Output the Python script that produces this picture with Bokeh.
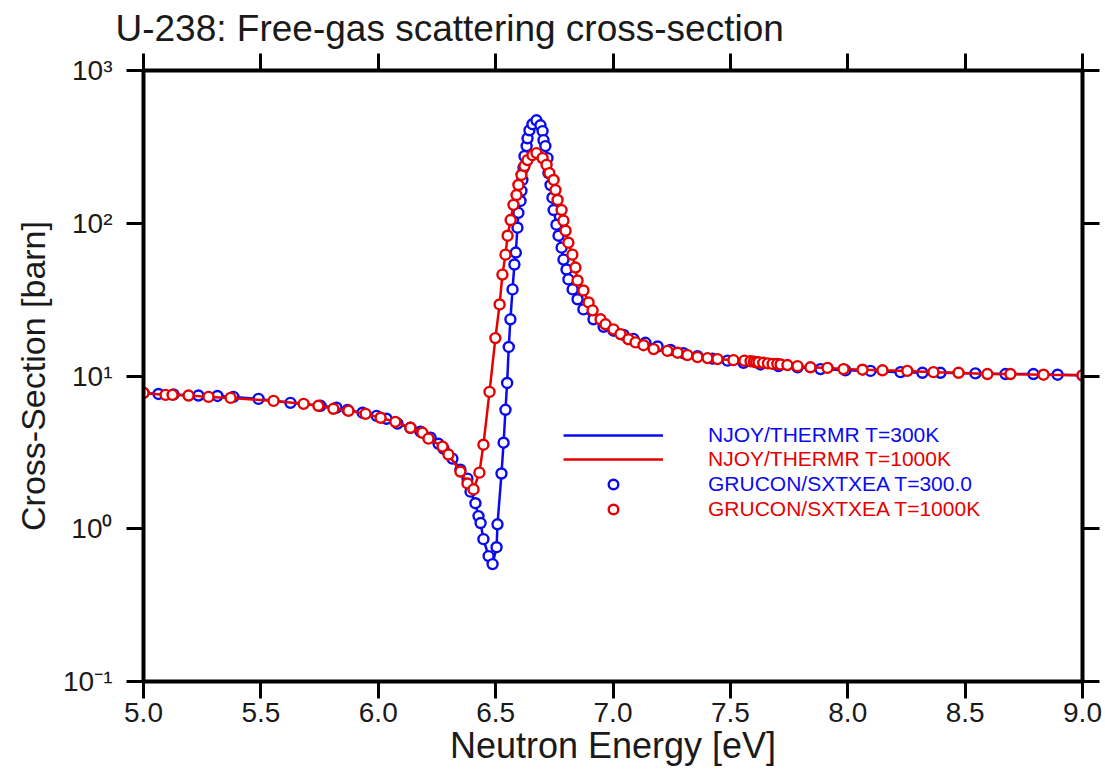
from bokeh.plotting import figure
from bokeh.models import (FixedTicker, LinearAxis, LogAxis, Range1d, Legend,
                          LegendItem, PrintfTickFormatter)
from bokeh.embed import file_html
from bokeh.resources import INLINE

FONT = "Liberation Sans"
BLUE = "#0a0af0"
RED = "#e60000"

# ---------------- data ----------------
x_ticks = [5.0, 5.5, 6.0, 6.5, 7.0, 7.5, 8.0, 8.5, 9.0]
y_ticks = [0.1, 1, 10, 100, 1000]
y_tick_labels = {0.1: "10\u207b\u00b9", 1: "10\u2070", 10: "10\u00b9",
                 100: "10\u00b2", 1000: "10\u00b3"}

# T = 300 K
blue_E = [5.000, 5.064, 5.128, 5.234, 5.315, 5.383, 5.490, 5.626, 5.754, 5.822,
          5.869, 5.933, 5.993, 6.035, 6.082, 6.137, 6.180, 6.223, 6.257, 6.278,
          6.316, 6.350, 6.380, 6.393, 6.414, 6.427, 6.436, 6.448, 6.470, 6.487,
          6.504, 6.508, 6.525, 6.534, 6.542, 6.549, 6.556, 6.563, 6.572, 6.580,
          6.586, 6.593, 6.597, 6.606, 6.610, 6.614, 6.619, 6.623, 6.632, 6.636,
          6.644, 6.657, 6.674, 6.691, 6.700, 6.704, 6.712, 6.721, 6.725, 6.734,
          6.742, 6.747, 6.759, 6.768, 6.781, 6.789, 6.802, 6.810, 6.828, 6.849,
          6.874, 6.917, 6.960, 7.002, 7.045, 7.087, 7.138, 7.190, 7.245, 7.300,
          7.360, 7.424, 7.488, 7.556, 7.628, 7.705, 7.786, 7.884, 7.990, 8.097,
          8.225, 8.318, 8.395, 8.544, 8.672, 8.791, 8.894, 9.000]
blue_xs = [7.75, 7.63, 7.58, 7.45, 7.40, 7.30, 7.08, 6.67, 6.38, 6.20,
           6.00, 5.75, 5.48, 5.25, 4.88, 4.58, 4.32, 3.95, 3.60, 3.35,
           2.88, 2.44, 2.13, 1.75, 1.47, 1.21, 1.09, 0.855, 0.662, 0.587,
           0.757, 1.07, 2.30, 3.66, 6.01, 9.00, 15.5, 23.5, 36.9, 53.7,
           64.3, 93.5, 117, 140, 163, 192, 230, 275, 320, 360,
           406, 445, 472, 438, 401, 350, 320, 267, 213, 178,
           147, 122, 97.8, 82.9, 69.2, 57.8, 49.8, 42.9, 36.9, 31.8,
           27.3, 23.5, 21.0, 19.8, 18.6, 17.5, 16.5, 15.6, 14.8, 14.1,
           13.5, 13.0, 12.6, 12.2, 11.9, 11.6, 11.4, 11.1, 10.9, 10.8,
           10.6, 10.5, 10.5, 10.4, 10.3, 10.3, 10.2, 10.1]

# T = 1000 K
red_E = [5.000, 5.094, 5.124, 5.192, 5.277, 5.371, 5.554, 5.682, 5.745, 5.809,
         5.873, 5.946, 6.010, 6.073, 6.137, 6.188, 6.214, 6.274, 6.299, 6.350,
         6.380, 6.406, 6.431, 6.448, 6.474, 6.499, 6.517, 6.529, 6.542, 6.551,
         6.564, 6.576, 6.589, 6.597, 6.610, 6.623, 6.636, 6.657, 6.674, 6.700,
         6.717, 6.729, 6.747, 6.755, 6.764, 6.781, 6.789, 6.798, 6.810, 6.827,
         6.840, 6.849, 6.874, 6.896, 6.913, 6.947, 6.968, 7.002, 7.032, 7.066,
         7.096, 7.130, 7.173, 7.232, 7.275, 7.317, 7.360, 7.403, 7.445, 7.513,
         7.560, 7.586, 7.600, 7.610, 7.620, 7.640, 7.660, 7.680, 7.700, 7.714,
         7.743, 7.786, 7.841, 7.914, 7.982, 8.063, 8.148, 8.254, 8.365, 8.472,
         8.595, 8.693, 8.834, 9.000]
red_xs = [7.75, 7.52, 7.52, 7.45, 7.30, 7.19, 6.87, 6.57, 6.38, 6.10,
          5.92, 5.65, 5.33, 5.01, 4.58, 4.25, 3.89, 3.45, 3.06, 2.37,
          1.98, 1.81, 2.33, 3.55, 7.87, 17.7, 29.4, 46.1, 62.3, 82.9,
          105, 132, 153, 178, 207, 237, 259, 279, 288, 267,
          241, 213, 192, 165, 142, 122, 104, 89.3, 74.6, 62.3,
          51.3, 42.2, 36.3, 30.3, 26.9, 23.5, 21.8, 20.2, 18.8, 17.4,
          16.6, 15.9, 15.0, 14.6, 14.2, 13.7, 13.3, 13.1, 12.9, 12.7,
          12.6, 12.5, 12.4, 12.3, 12.3, 12.2, 12.1, 12.0, 12.0, 11.9,
          11.8, 11.6, 11.4, 11.3, 11.1, 11.0, 10.9, 10.8, 10.6, 10.5,
          10.3, 10.3, 10.2, 10.1]

labels = ["NJOY/THERMR T=300K", "NJOY/THERMR T=1000K",
          "GRUCON/SXTXEA T=300.0", "GRUCON/SXTXEA T=1000K"]

# ---------------- figure ----------------
p = figure(width=1105, height=777, x_range=Range1d(5, 9), y_range=Range1d(0.1, 1000),
           y_axis_type="log", output_backend="svg", toolbar_location=None,
           min_border_left=143, min_border_right=23, min_border_top=67,
           min_border_bottom=96)
p.outline_line_color = None
p.xgrid.visible = False
p.ygrid.visible = False
p.background_fill_color = "white"
p.border_fill_color = "white"

p.title.text = "U-238: Free-gas scattering cross-section"
p.title.text_font = FONT
p.title.text_font_size = "37px"
p.title.text_font_style = "normal"
p.title.text_color = "#1a1a1a"
p.title.align = "left"
p.title.offset = -28


def style(ax, show_labels=True):
    ax.axis_line_width = 4
    ax.axis_line_color = "black"
    ax.major_tick_line_width = 3
    ax.major_tick_out = 17
    ax.major_tick_in = 0
    ax.minor_tick_out = 0
    ax.minor_tick_in = 0
    ax.major_label_text_font = FONT
    ax.axis_label_text_font = FONT
    ax.axis_label_text_font_style = "normal"
    ax.axis_label_text_color = "#1a1a1a"
    ax.major_label_text_color = "#1a1a1a"
    if show_labels:
        ax.major_label_text_font_size = "28px"
        ax.axis_label_text_font_size = "34px"
    else:
        ax.major_label_text_font_size = "0px"
        ax.major_label_text_color = None


xax = p.xaxis[0]
xax.ticker = FixedTicker(ticks=x_ticks, minor_ticks=[])
xax.formatter = PrintfTickFormatter(format="%.1f")
xax.axis_label = "Neutron Energy [eV]"
style(xax)
xax.axis_label_text_font_size = "36px"
xax.major_label_standoff = 4
xax.axis_label_standoff = 0

yax = p.yaxis[0]
yax.ticker = FixedTicker(ticks=y_ticks, minor_ticks=[])
yax.major_label_overrides = y_tick_labels
yax.axis_label = "Cross-Section [barn]"
style(yax)
yax.major_label_standoff = 14
yax.axis_label_standoff = 8

top = LinearAxis(ticker=FixedTicker(ticks=x_ticks, minor_ticks=[]))
style(top, show_labels=False)
p.add_layout(top, "above")
right = LogAxis(ticker=FixedTicker(ticks=y_ticks, minor_ticks=[]))
style(right, show_labels=False)
p.add_layout(right, "right")

# ---------------- series ----------------
l_blue = p.line(blue_E, blue_xs, line_color=BLUE, line_width=2.5)
s_blue = p.scatter(blue_E, blue_xs, marker="circle", size=10, line_color=BLUE,
                   line_width=2.4, fill_color="white")
l_red = p.line(red_E, red_xs, line_color=RED, line_width=2.5)
s_red = p.scatter(red_E, red_xs, marker="circle", size=10, line_color=RED,
                  line_width=2.4, fill_color="white")

# ---------------- legends (one per colour of text) ----------------
entries = [(labels[0], l_blue, BLUE, 234), (labels[1], l_red, RED, 210),
           (labels[2], s_blue, BLUE, 185), (labels[3], s_red, RED, 160)]
for lab, rend, col, ypos in entries:
    leg = Legend(items=[LegendItem(label=lab, renderers=[rend])],
                 location=(420, ypos), orientation="vertical", padding=0, margin=0,
                 border_line_alpha=0, background_fill_alpha=0,
                 glyph_width=100, glyph_height=24, label_height=24,
                 label_standoff=45, label_text_font=FONT,
                 label_text_font_size="21px", label_text_color=col, spacing=0)
    p.add_layout(leg)

open("out.html", "w").write(file_html(p, INLINE))
